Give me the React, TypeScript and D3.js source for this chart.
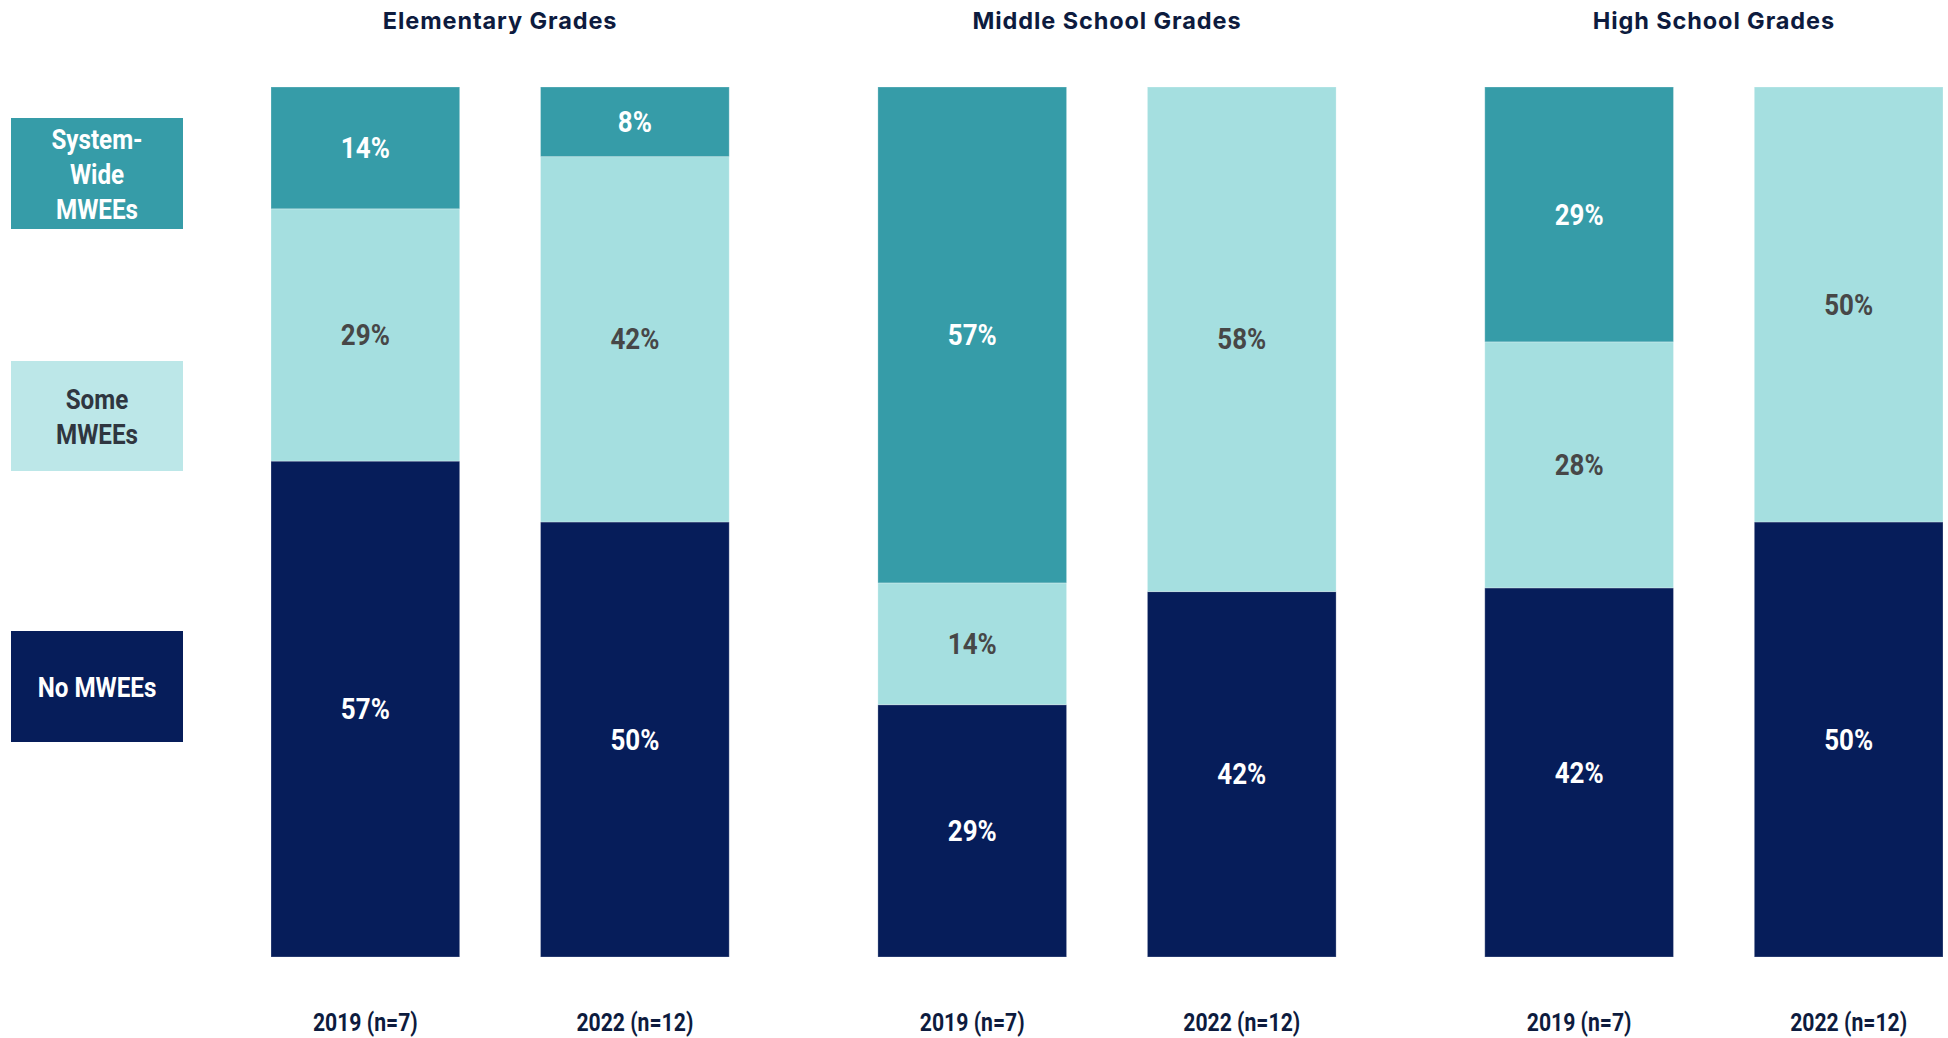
import React from "react";
import * as d3 from "d3";

const groups = ["Elementary Grades", "Middle School Grades", "High School Grades"];
const years = ["2019 (n=7)", "2022 (n=12)"];
// percentages per bar, order: Elem 2019, Elem 2022, MS 2019, MS 2022, HS 2019, HS 2022
const noMWEEs = [57, 50, 29, 42, 42, 50];
const someMWEEs = [29, 42, 14, 58, 28, 50];
const systemWide = [14, 8, 57, 0, 29, 0];
const seriesKeys = ["none", "some", "system"];
const legendLabels = [
  { key: "system", lines: ["System-", "Wide", "MWEEs"] },
  { key: "some", lines: ["Some", "MWEEs"] },
  { key: "none", lines: ["No MWEEs"] },
];

const W = 1948;
const H = 1038;
const colors: Record<string, string> = { system: "#369CA8", some: "#A5DFE0", none: "#061D5A" };
const legendFill: Record<string, string> = { system: "#369CA8", some: "#BCE7E8", none: "#061D5A" };
const labelColor: Record<string, string> = { system: "#ffffff", some: "#474747", none: "#ffffff" };
const legendText: Record<string, string> = { system: "#ffffff", some: "#2f3640", none: "#ffffff" };
const condensed = "Roboto, 'Noto Sans', sans-serif";
const titleFont = "Inter, 'Noto Sans', sans-serif";

function CText(props: { x: number; y: number; sx: number; size: number; fill: string; children: any }) {
  return (
    <text transform={`translate(${props.x},${props.y}) scale(${props.sx},1)`} textAnchor="middle" dominantBaseline="central"
      fontFamily={condensed} fontWeight={700} fontSize={props.size} fill={props.fill}>
      {props.children}
    </text>
  );
}

export default function App() {
  const rows = noMWEEs.map((v, i) => ({
    group: groups[Math.floor(i / 2)],
    year: years[i % 2],
    none: v,
    some: someMWEEs[i],
    system: systemWide[i],
  }));
  const stack = d3.stack<any>().keys(seriesKeys).offset(d3.stackOffsetExpand);
  const stacked = stack(rows);

  const x0 = d3.scaleBand().domain(groups).range([271, 1943]).paddingInner(0.245).paddingOuter(0);
  const x1 = d3.scaleBand().domain(years).range([0, x0.bandwidth()]).paddingInner(0.3).paddingOuter(0);
  const y = d3.scaleLinear().domain([0, 1]).range([957, 87]);

  const legendBoxes = [
    { key: "system", y0: 118, y1: 229 },
    { key: "some", y0: 361, y1: 471 },
    { key: "none", y0: 631, y1: 742 },
  ];

  return (
    <svg width={W} height={H} style={{ position: "absolute", left: 0, top: 0, display: "block", background: "#fff" }}>
      {groups.map((g) => (
        <text key={g} x={(x0(g) as number) + x0.bandwidth() / 2} y={20.5} textAnchor="middle" dominantBaseline="central"
          fontFamily={titleFont} fontWeight={700} fontSize={23.5} letterSpacing={0.9} fill="#0d1b3e">{g}</text>
      ))}
      {stacked.map((s) => (
        <g key={s.key}>
          {s.map((d, i) => {
            const r = rows[i];
            const bx = (x0(r.group) as number) + (x1(r.year) as number);
            const yTop = y(d[1]);
            const yBot = y(d[0]);
            if (yBot - yTop < 0.5) return null;
            return (
              <g key={i}>
                <rect x={bx} y={yTop} width={x1.bandwidth()} height={yBot - yTop} fill={colors[s.key]}
                  stroke="#ffffff" strokeOpacity={0.25} strokeWidth={1} />
                <CText x={bx + x1.bandwidth() / 2} y={(yTop + yBot) / 2} sx={0.88} size={29.5} fill={labelColor[s.key]}>
                  {(r as any)[s.key]}%
                </CText>
              </g>
            );
          })}
        </g>
      ))}
      {rows.map((r, i) => (
        <CText key={i} x={(x0(r.group) as number) + (x1(r.year) as number) + x1.bandwidth() / 2} y={1022}
          sx={0.83} size={25.5} fill="#0d1b3e">
          {r.year}
        </CText>
      ))}
      {legendBoxes.map((b) => {
        const item = legendLabels.find((l) => l.key === b.key)!;
        const cy = (b.y0 + b.y1) / 2;
        const lh = 35;
        return (
          <g key={b.key}>
            <rect x={11} y={b.y0} width={172} height={b.y1 - b.y0} fill={legendFill[b.key]} />
            {item.lines.map((ln, j) => (
              <CText key={j} x={97} y={cy + 1 + (j - (item.lines.length - 1) / 2) * lh} sx={0.88} size={27.5} fill={legendText[b.key]}>
                {ln}
              </CText>
            ))}
          </g>
        );
      })}
    </svg>
  );
}
